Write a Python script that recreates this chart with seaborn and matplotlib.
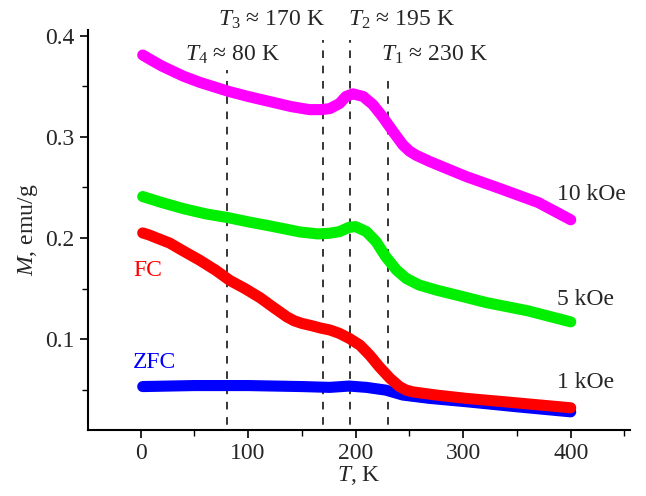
import matplotlib
matplotlib.use("Agg")
import matplotlib.pyplot as plt
import pandas as pd
import seaborn as sns

# Curves (T in K, M in emu/g)
t_10koe = [2, 10, 20, 30, 40, 55, 70, 82, 100, 120, 140, 157, 168, 176, 185, 191,
           197.5, 207, 216, 225, 235, 244, 250, 256, 269, 284, 303, 334, 370, 400]
m_10koe = [0.381, 0.376, 0.370, 0.365, 0.360, 0.354, 0.349, 0.345, 0.340, 0.335,
           0.330, 0.327, 0.327, 0.328, 0.333, 0.340, 0.3426, 0.340, 0.332, 0.320,
           0.305, 0.292, 0.286, 0.282, 0.2756, 0.269, 0.2607, 0.249, 0.235, 0.218]

t_5koe = [2, 20, 40, 60, 82, 100, 120, 148, 165, 176, 185, 194, 200, 210, 219,
          228, 238, 247, 259, 275, 300, 322, 360, 400]
m_5koe = [0.241, 0.235, 0.229, 0.224, 0.220, 0.216, 0.212, 0.206, 0.204, 0.2047,
          0.2063, 0.2106, 0.2112, 0.2063, 0.1964, 0.1815, 0.1683, 0.160, 0.1535,
          0.1485, 0.1419, 0.136, 0.128, 0.117]

t_fc = [2, 8, 15, 27, 40, 55, 70, 83, 97, 111, 124, 136, 143, 150, 160, 167, 176,
        185, 194, 204, 213, 222, 232, 241, 247, 253, 275, 303, 340, 400]
m_fc = [0.205, 0.203, 0.200, 0.195, 0.187, 0.178, 0.168, 0.158, 0.150, 0.141,
        0.131, 0.122, 0.118, 0.1155, 0.113, 0.111, 0.109, 0.1056, 0.1007, 0.094,
        0.0842, 0.0726, 0.0611, 0.0528, 0.0495, 0.0478, 0.0446, 0.0413, 0.0378, 0.032]

t_zfc = [2, 50, 100, 150, 176, 194, 210, 228, 244, 269, 303, 350, 400]
m_zfc = [0.053, 0.054, 0.054, 0.053, 0.0522, 0.0535, 0.0522, 0.0495, 0.0446,
         0.0413, 0.038, 0.033, 0.028]

# transition temperatures and labels
t_marks = [80, 170, 195, 230]
dash_tops = [0.366, 0.396, 0.396, 0.359]

sns.set_theme(style="ticks")
plt.rcParams["font.family"] = ["Liberation Serif", "DejaVu Serif"]
plt.rcParams["mathtext.fontset"] = "custom"
plt.rcParams["mathtext.rm"] = "Liberation Serif"
plt.rcParams["mathtext.it"] = "Liberation Serif:italic"

fig, ax = plt.subplots(figsize=(6.46, 4.96), dpi=100)
fig.subplots_adjust(left=0.136, right=0.975, bottom=0.133, top=0.94)

# dashed markers for T1..T4
for t, top in zip(t_marks, dash_tops):
    ax.plot([t, t], [0.0, top], color="black", lw=1.1, ls=(0, (5, 5)), zorder=1)

curves = [
    (t_10koe, m_10koe, "#ff00ff"),
    (t_5koe, m_5koe, "#00ee00"),
    (t_zfc, m_zfc, "#0000ff"),
    (t_fc, m_fc, "#ff0000"),
]
for t, m, c in curves:
    d = pd.DataFrame({"T": t, "M": m})
    sns.lineplot(data=d, x="T", y="M", color=c, lw=8, ax=ax,
                 solid_capstyle="round", solid_joinstyle="round", zorder=2)

ax.set_xlim(-49, 455)
ax.set_ylim(0.01, 0.406)
ax.set_xticks([0, 100, 200, 300, 400])
ax.set_xticks([50, 150, 250, 350, 450], minor=True)
ax.set_yticks([0.1, 0.2, 0.3, 0.4])
ax.set_yticks([0.05, 0.15, 0.25, 0.35], minor=True)
ax.set_yticklabels(["0.1", "0.2", "0.3", "0.4"])
ax.tick_params(which="major", length=6, width=1.2, labelsize=17, color="black")
ax.tick_params(which="minor", length=4, width=1.0, color="black")
for s in ["left", "bottom"]:
    ax.spines[s].set_linewidth(1.5)
    ax.spines[s].set_color("black")
sns.despine(ax=ax)

ax.set_xlabel("$T$, K", fontsize=17, labelpad=0)
ax.set_ylabel("$M$, emu/g", fontsize=17, labelpad=4)

fs = 17
ax.text(41, 0.381, "$T_4$ \u2248 80 K", fontsize=fs, va="center", clip_on=False)
ax.text(72, 0.416, "$T_3$ \u2248 170 K", fontsize=fs, va="center", clip_on=False)
ax.text(193, 0.416, "$T_2$ \u2248 195 K", fontsize=fs, va="center", clip_on=False)
ax.text(224, 0.381, "$T_1$ \u2248 230 K", fontsize=fs, va="center", clip_on=False)

ax.text(387, 0.243, "10 kOe", fontsize=fs, va="center")
ax.text(387, 0.139, "5 kOe", fontsize=fs, va="center")
ax.text(387, 0.057, "1 kOe", fontsize=fs, va="center")
ax.text(-7, 0.168, "FC", fontsize=fs, va="center", color="#ff0000")
ax.text(-7, 0.077, "ZFC", fontsize=fs, va="center", color="#0000ff")

fig.savefig("out.png", dpi=100)
